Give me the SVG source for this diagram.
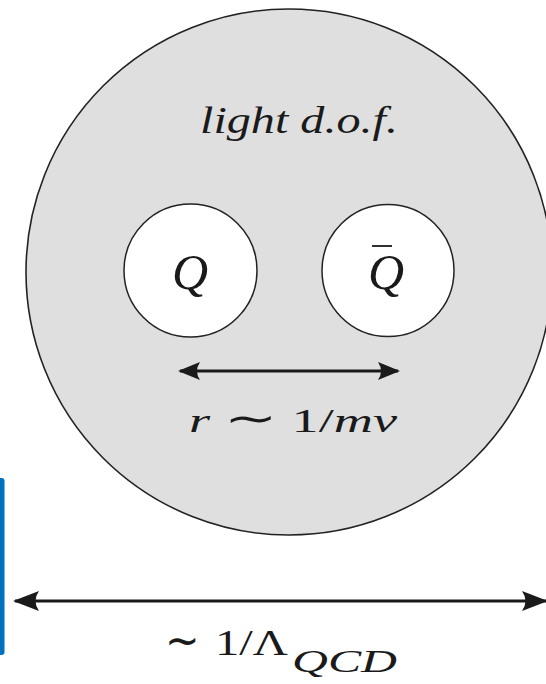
<svg xmlns="http://www.w3.org/2000/svg" width="546" height="684" viewBox="0 0 546 684">
  <style>
    .big { fill: #dfdfdf; stroke: #222; stroke-width: 1.6; }
    .small { fill: #ffffff; stroke: #222; stroke-width: 1.5; }
    .conn { stroke: #1a1a1a; fill: none; }
    .t { font-family: "Liberation Serif", "Times New Roman", serif; fill: #1a1a1a; }
    .it { font-style: italic; }
  </style>
  <defs>
    <marker id="headL" viewBox="0 0 26 20" refX="24" refY="10" markerUnits="userSpaceOnUse" markerWidth="26" markerHeight="20" orient="auto-start-reverse">
      <path d="M0,0 L26,10 L0,20 Q7,10 0,0 Z" fill="#1a1a1a"/>
    </marker>
    <marker id="headS" viewBox="0 0 22 18" refX="20" refY="9" markerUnits="userSpaceOnUse" markerWidth="22" markerHeight="18" orient="auto-start-reverse">
      <path d="M0,0 L22,9 L0,18 Q6,9 0,0 Z" fill="#1a1a1a"/>
    </marker>
  </defs>

  <rect x="-4" y="478" width="8.5" height="177" rx="3" fill="#0070c0"/>

  <g id="light">
    <circle class="big" cx="289" cy="272" r="263"/>
    <text class="t it" x="200" y="133" font-size="38" textLength="198" lengthAdjust="spacingAndGlyphs">light d.o.f.</text>
  </g>

  <g id="Q">
    <circle class="small" cx="190.5" cy="270.5" r="66.5"/>
    <text class="t it" x="190" y="289" font-size="50" text-anchor="middle">Q</text>
  </g>

  <g id="Qbar">
    <circle class="small" cx="388" cy="270.5" r="66"/>
    <text class="t it" x="386" y="289" font-size="50" text-anchor="middle">Q</text>
    <line x1="372" y1="246" x2="392" y2="246" stroke="#1a1a1a" stroke-width="1.8"/>
  </g>

  <g id="connectors">
    <line class="conn" x1="180" y1="371" x2="398" y2="371" stroke-width="3" marker-start="url(#headS)" marker-end="url(#headS)"/>
    <line class="conn" x1="15" y1="601" x2="546" y2="601" stroke-width="3.2" marker-start="url(#headL)" marker-end="url(#headL)"/>
  </g>

  <text class="t" x="189" y="432" font-size="34" textLength="208" lengthAdjust="spacingAndGlyphs"><tspan class="it">r</tspan> <tspan font-size="40">∼</tspan> 1/<tspan class="it">mv</tspan></text>

  <g class="t">
    <text x="165" y="656" font-size="46" textLength="35" lengthAdjust="spacingAndGlyphs">∼</text>
    <text x="215" y="655" font-size="36" textLength="73" lengthAdjust="spacingAndGlyphs">1/Λ</text>
    <text class="it" x="292" y="672" font-size="32" textLength="105" lengthAdjust="spacingAndGlyphs">QCD</text>
  </g>
</svg>
